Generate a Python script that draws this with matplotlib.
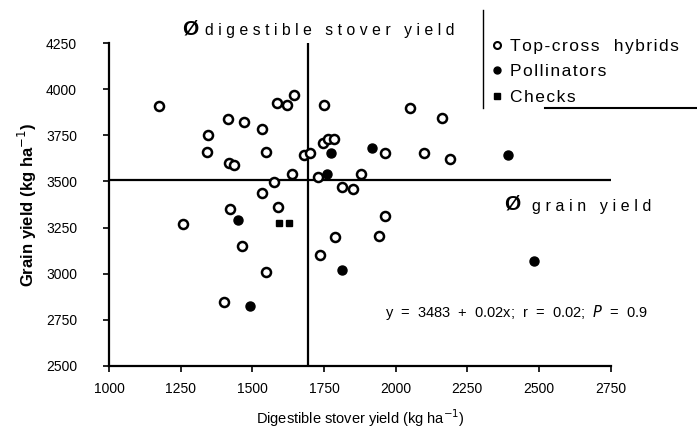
import numpy as np
import matplotlib.pyplot as plt
from matplotlib.lines import Line2D

plt.rcParams['font.family'] = ['Liberation Sans', 'DejaVu Sans']

# Top-cross hybrids (open)
hyb_x = [1175, 1416, 1471, 1533, 1344, 1341, 1420, 1437, 1547, 1575, 1533,
         1585, 1620, 1645, 1751, 2050, 2163, 1745, 1763, 1786, 1963, 2100,
         2189, 1681, 1701, 1637, 1730, 1879, 1812, 1852, 1422, 1259, 1463,
         1547, 1401, 1588, 1963, 1788, 1942, 1736]
hyb_y = [3910, 3837, 3823, 3785, 3752, 3660, 3599, 3590, 3660, 3499, 3436,
         3928, 3915, 3969, 3915, 3897, 3845, 3707, 3731, 3731, 3656, 3656,
         3620, 3644, 3653, 3541, 3526, 3541, 3468, 3457, 3349, 3268, 3150,
         3010, 2848, 3363, 3314, 3200, 3204, 3101]

# Pollinators (filled circles)
pol_x = [1774, 1918, 1759, 2393, 1449, 1492, 1812, 2484]
pol_y = [3656, 3680, 3541, 3644, 3291, 2826, 3020, 3068]

# Checks (filled squares)
chk_x = [1593, 1628]
chk_y = [3273, 3273]

mean_x = 1693
mean_y = 3510

xticks = [1000, 1250, 1500, 1750, 2000, 2250, 2500, 2750]
yticks = [2500, 2750, 3000, 3250, 3500, 3750, 4000, 4250]

fig = plt.figure(figsize=(6.97, 4.32), dpi=100)
ax = fig.add_axes([109/697, 1 - 365.7/432, 501.7/697, 322.4/432])

# quadrant lines
ax.plot([mean_x, mean_x], [2500, 4250], color='black', lw=1.6, zorder=1)
ax.plot([1000, 2750], [mean_y, mean_y], color='black', lw=1.6, zorder=1)

ax.plot(hyb_x, hyb_y, 'o', ls='none', ms=6.5, mfc='white', mec='black', mew=1.8, zorder=3)
ax.plot(pol_x, pol_y, 'o', ls='none', ms=6.5, mfc='black', mec='black', zorder=3)
ax.plot(chk_x, chk_y, 's', ls='none', ms=4.5, mfc='black', mec='black', zorder=3)

ax.set_xlim(1000, 2750)
ax.set_ylim(2500, 4250)
ax.set_xticks(xticks)
ax.set_yticks(yticks)
ax.spines['top'].set_visible(False)
ax.spines['right'].set_visible(False)
ax.spines['left'].set_linewidth(1.6)
ax.spines['bottom'].set_linewidth(1.6)
ax.tick_params(axis='y', direction='out', length=4, width=1.2, pad=19, labelsize=10)
ax.tick_params(axis='x', direction='out', length=4, width=1.2, pad=8, labelsize=10)
ax.patch.set_visible(False)

ax.set_xlabel('Digestible stover yield (kg ha$^{-1}$)', fontsize=10.5, labelpad=8)
ax.set_ylabel('Grain yield (kg ha$^{-1}$)', fontsize=12, fontweight='bold', labelpad=5)

def spaced(s, gap='\u2009\u200a'):
    return gap.join(s)

fig.text(182/697, 1 - 29/432, '\u00d8', fontsize=15, fontweight='bold', va='center', ha='left')
fig.text(205/697, 1 - 30/432, spaced('digestible stover yield'), fontsize=11.3, va='center', ha='left')
fig.text(504/697, 1 - 204/432, '\u00d8', fontsize=15, fontweight='bold', va='center', ha='left')
fig.text(532/697, 1 - 206/432, spaced('grain yield'), fontsize=11.5, va='center', ha='left')

fig.text(385/697, 1 - 313/432, 'y  =  3483  +  0.02x;  r  =  0.02;  $P$  =  0.9',
         fontsize=10.5, va='center', ha='left')

# legend
handles = [
    Line2D([], [], marker='o', ls='none', ms=5, mfc='white', mec='black', mew=1.5),
    Line2D([], [], marker='o', ls='none', ms=5, mfc='black', mec='black'),
    Line2D([], [], marker='s', ls='none', ms=4, mfc='black', mec='black'),
]
labels = [spaced('Top-cross  hybrids', '\u200a'), spaced('Pollinators', '\u200a'),
          spaced('Checks', '\u200a')]
fig.legend(handles, labels,
           loc='upper left', bbox_to_anchor=(484/697, 1 - 30/432),
           frameon=False, fontsize=12.5, handlelength=0.5, handletextpad=0.5,
           labelspacing=0.6, borderpad=0)
fig.add_artist(Line2D([483/697, 483/697], [1 - 10/432, 1 - 108/432], color='black', lw=1))
fig.add_artist(Line2D([545/697, 1.0], [1 - 108/432, 1 - 108/432], color='black', lw=1.5))

fig.savefig('out.png', dpi=100)
